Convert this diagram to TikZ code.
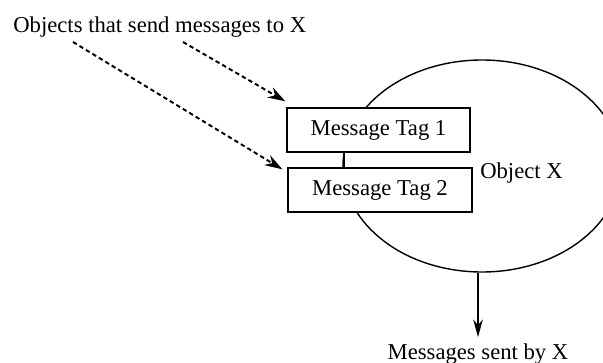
\documentclass[tikz,border=0pt]{standalone}
\usepackage{fontspec}
\setmainfont{Liberation Serif}
\usetikzlibrary{shapes.geometric,arrows.meta}
\begin{document}
\begin{tikzpicture}[font=\fontsize{12.9}{15}\selectfont,
  tagbox/.style={draw, fill=white, line width=0.8pt, minimum width=3.66cm, minimum height=0.88cm, inner sep=0pt},
  sendarrow/.style={line width=1.1pt, dash pattern=on 2.5pt off 1.8pt, -{Stealth[length=10pt,width=6.5pt]}}]
\useasboundingbox (0,0) rectangle (12.06,7.24);
\node [draw, ellipse, line width=0.8pt, inner sep=0pt, minimum width=5.56cm, minimum height=4.24cm] (objx) at (9.64,3.92) {};
\node [tagbox] (tag1) at (7.57,4.64) {Message Tag 1};
\node [tagbox, minimum width=3.68cm] (tag2) at (7.60,3.44) {Message Tag 2};
\draw [line width=0.8pt] ([xshift=-0.69cm]tag1.south) -- ([xshift=-0.72cm]tag2.north);
\node (objlabel) at (10.43,3.78) {Object X};
\node [anchor=base west, inner sep=0pt] (senders) at (0.26,6.58) {Objects that send messages to X};
\coordinate (s1) at (1.46,6.40);
\coordinate (s2) at (3.66,6.40);
\draw [sendarrow] (s2) -- ([shift={(-0.02,0.12)}]tag1.north west);
\draw [sendarrow] (s1) -- ([shift={(-0.1,-0.04)}]tag2.north west);
\node [anchor=base] (sent) at (9.56,0.06) {Messages sent by X};
\draw [line width=0.8pt, -{Stealth[length=10pt,width=5.5pt]}] (objx.south -| sent.north) -- (sent.north);
\end{tikzpicture}
\end{document}
